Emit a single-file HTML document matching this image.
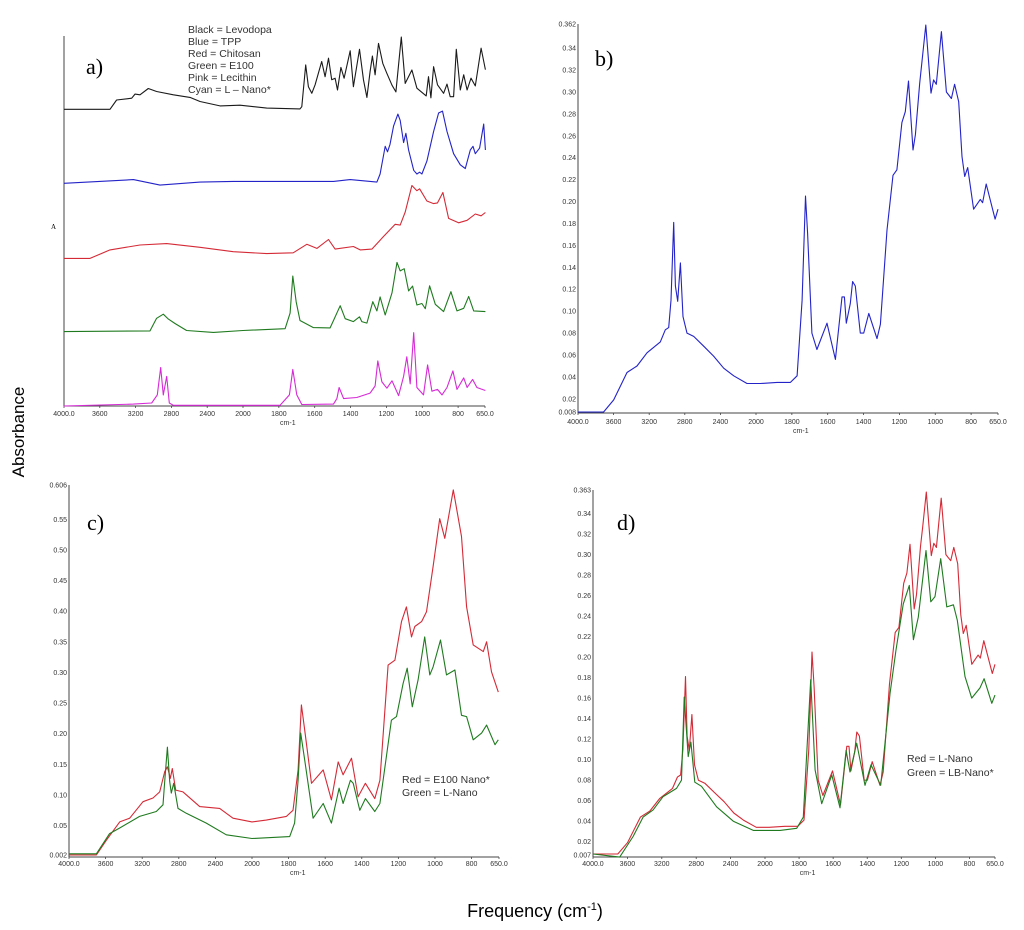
<!DOCTYPE html>
<html><head><meta charset="utf-8"><style>
html,body{margin:0;padding:0;background:#fff;}
svg{display:block;font-family:"Liberation Sans",sans-serif;}
.tk{font-size:7px;fill:#333;}
.pl{font-family:"Liberation Serif",serif;font-size:22px;fill:#000;}
.lg{font-size:10.5px;fill:#333;}
</style></head><body>
<svg id="fig" width="1024" height="930" viewBox="0 0 1024 930">
<text x="0" y="0" transform="translate(24,432) rotate(-90)" text-anchor="middle" font-size="17">Absorbance</text>
<text x="535" y="917" text-anchor="middle" font-size="18">Frequency (cm<tspan dy="-7" font-size="11">-1</tspan><tspan dy="7">)</tspan></text>
<g id="pa"></g>
<g id="pb"></g>
<g id="pc"></g>
<g id="pd"></g>
</svg>
<script>
// ---- x tick data (wavenumbers, cm-1) ----
const xTicks = [4000,3600,3200,2800,2400,2000,1800,1600,1400,1200,1000,800,650];
const xTickLabels = ["4000.0","3600","3200","2800","2400","2000","1800","1600","1400","1200","1000","800","650.0"];
// ---- panel a: stacked traces (relative absorbance units) ----
const seriesANames = ["Levodopa","TPP","Chitosan","E100","Lecithin"];
const seriesAOffsets = [80.2,60.2,39.9,20.1,0];
const levodopa = [[4000,0],[3486,0],[3412,2.5],[3244,3],[3207,4.1],[3151,3.9],[3058,5.6],[2965,4.8],[2778,3.9],[2592,3.2],[2480,2.1],[2257,0.9],[2033,1.1],[1868,0.3],[1682,0.1],[1672,0.7],[1650,12],[1635,6.1],[1616,4.3],[1598,6.6],[1561,12.9],[1542,8.8],[1523,13.8],[1505,8],[1486,8.4],[1473,5.2],[1454,11.3],[1436,8.4],[1402,15.8],[1384,6.1],[1350,16.2],[1328,7.9],[1309,3.2],[1291,10.2],[1278,14.4],[1263,9.3],[1244,17.8],[1220,12.4],[1197,9.7],[1169,6.5],[1147,4.7],[1117,19.5],[1095,7],[1058,10.6],[1030,5.7],[978,3.6],[965,8.8],[952,3.1],[937,11.5],[915,6.6],[881,4.3],[862,6.8],[844,3.4],[825,3.4],[810,16.2],[788,5.2],[769,9.3],[750,5.2],[728,8.4],[704,6.3],[672,16.5],[648,10.7]];
const tpp = [[4000,0],[3225,1],[2927,-0.5],[2480,0.3],[2108,0.5],[1868,0.5],[1495,0.5],[1402,1],[1253,0.3],[1235,2.5],[1207,10],[1194,8.5],[1180,10.5],[1160,15.5],[1136,18.7],[1123,17],[1104,11],[1091,13.5],[1076,9],[1048,3.5],[1030,2.5],[1015,3],[1002,2.5],[974,6],[937,14],[909,19],[887,19.5],[862,14],[825,8],[788,5],[760,4],[732,9],[717,10],[704,8],[680,9.5],[657,16],[648,9]];
const chitosan = [[4000,0],[3710,0],[3486,2.3],[3151,3.6],[2853,4],[2480,3],[2108,1.8],[1868,1.3],[1720,1.5],[1644,3.8],[1588,2.7],[1523,5.1],[1486,2.5],[1384,3.2],[1346,2.3],[1281,2.5],[1216,5.9],[1151,9.2],[1123,9],[1095,12.5],[1058,19.7],[1030,18.3],[1015,18.8],[974,15.5],[937,14.8],[915,15],[885,17.8],[853,10.8],[797,9.6],[750,10.3],[704,12],[672,11.5],[648,12.4]];
const e100 = [[4000,0],[3039,0.2],[2965,3.6],[2890,4.7],[2834,3.4],[2760,2.2],[2630,0.3],[2331,-0.2],[2000,0.3],[1765,0.8],[1737,5],[1722,15],[1703,8],[1682,3],[1607,1.1],[1514,1],[1495,3],[1458,7],[1430,3.5],[1384,2.7],[1350,4],[1337,2.7],[1309,2.3],[1276,8.1],[1253,5.6],[1235,9.4],[1207,4.5],[1169,10.5],[1141,18.7],[1123,16.4],[1101,17],[1076,11],[1054,12.3],[1030,7.2],[1002,7.6],[983,6.2],[959,12.4],[927,7.4],[881,5.4],[840,10.8],[806,5.6],[769,6.3],[741,9.5],[713,5.6],[648,5.4]];
const lecithin = [[4000,0],[3225,0.5],[3020,0.8],[2957,3],[2920,10.4],[2890,3],[2853,8],[2823,0.8],[2778,0.2],[1793,0.2],[1741,3],[1722,9.9],[1700,3],[1672,0.4],[1495,0.5],[1476,2],[1464,5],[1439,2],[1365,2.3],[1291,3.5],[1263,5.4],[1248,12.2],[1225,6.5],[1197,4.8],[1169,6.8],[1132,2.8],[1104,8],[1086,13.3],[1067,6],[1048,19.8],[1030,5],[993,3],[970,11.1],[946,4],[915,4.5],[890,3],[862,5],[829,9.5],[806,4.5],[769,7.6],[750,5],[719,7.2],[695,5],[648,4.2]];
// ---- panel b / d red: L-Nano absorbance ----
const lNano = [[4000,.008],[3712,.008],[3599,.019],[3449,.044],[3337,.05],[3225,.062],[3075,.072],[3019,.083],[2981,.085],[2955,.11],[2925,.181],[2906,.123],[2880,.109],[2850,.144],[2820,.095],[2775,.08],[2700,.077],[2588,.068],[2476,.059],[2363,.048],[2251,.041],[2101,.034],[1976,.034],[1883,.035],[1808,.035],[1771,.041],[1743,.11],[1724,.205],[1712,.171],[1688,.08],[1660,.065],[1604,.089],[1557,.056],[1520,.113],[1507,.113],[1496,.089],[1474,.107],[1461,.127],[1446,.123],[1418,.08],[1399,.08],[1371,.098],[1325,.075],[1306,.088],[1269,.174],[1236,.224],[1214,.229],[1186,.272],[1167,.282],[1149,.31],[1124,.247],[1111,.261],[1087,.308],[1074,.328],[1053,.361],[1024,.299],[1009,.311],[994,.307],[966,.355],[938,.3],[910,.294],[892,.307],[869,.291],[851,.241],[836,.223],[819,.231],[786,.193],[749,.202],[736,.199],[716,.216],[666,.184],[650,.193]];
// ---- panel c ----
const e100Nano = [[4000,.002],[3701,.002],[3592,.026],[3446,.056],[3337,.062],[3191,.089],[3082,.095],[3009,.105],[2954,.138],[2925,.146],[2893,.127],[2871,.143],[2834,.108],[2754,.105],[2572,.081],[2353,.078],[2208,.062],[2000,.056],[1922,.059],[1812,.065],[1776,.075],[1748,.141],[1730,.247],[1712,.206],[1675,.119],[1611,.141],[1566,.092],[1529,.154],[1502,.133],[1456,.16],[1420,.097],[1380,.119],[1329,.094],[1301,.124],[1256,.312],[1219,.32],[1183,.383],[1156,.407],[1128,.358],[1110,.375],[1073,.383],[1046,.399],[1010,.473],[974,.551],[946,.519],[900,.598],[855,.522],[827,.407],[791,.345],[736,.334],[718,.35],[691,.301],[654,.268]];
const lNanoC = [[4000,.004],[3701,.004],[3556,.037],[3446,.046],[3228,.065],[3046,.073],[2973,.084],[2954,.122],[2925,.178],[2900,.122],[2882,.103],[2856,.119],[2809,.078],[2718,.07],[2499,.054],[2281,.035],[2000,.029],[1794,.032],[1767,.054],[1748,.124],[1734,.201],[1712,.157],[1666,.062],[1611,.086],[1566,.054],[1524,.111],[1502,.086],[1462,.124],[1447,.119],[1411,.075],[1380,.094],[1329,.073],[1301,.086],[1238,.222],[1210,.228],[1174,.282],[1152,.307],[1124,.244],[1092,.288],[1056,.358],[1028,.296],[1010,.309],[970,.353],[937,.296],[891,.304],[855,.23],[827,.228],[791,.19],[745,.201],[718,.214],[672,.182],[654,.19]];
// ---- panel d green: LB-Nano ----
const lbNano = [[4000,.008],[3689,.005],[3534,.025],[3417,.044],[3301,.051],[3185,.064],[3029,.072],[2971,.08],[2940,.161],[2893,.103],[2862,.117],[2816,.078],[2738,.074],[2563,.054],[2369,.04],[2136,.031],[1912,.031],[1814,.033],[1775,.044],[1732,.178],[1706,.09],[1667,.057],[1608,.085],[1560,.053],[1524,.109],[1501,.088],[1462,.116],[1413,.075],[1378,.095],[1321,.075],[1266,.165],[1231,.207],[1188,.252],[1153,.27],[1129,.217],[1100,.239],[1055,.304],[1027,.254],[1002,.259],[969,.296],[933,.249],[894,.251],[871,.236],[826,.181],[787,.16],[738,.17],[714,.179],[669,.155],[650,.163]];
const yTicksB = [0.008,0.02,0.04,0.06,0.08,0.10,0.12,0.14,0.16,0.18,0.20,0.22,0.24,0.26,0.28,0.30,0.32,0.34,0.362];
const yTicksC = [0.002,0.05,0.10,0.15,0.20,0.25,0.30,0.35,0.40,0.45,0.50,0.55,0.606];
const yTicksD = [0.007,0.02,0.04,0.06,0.08,0.10,0.12,0.14,0.16,0.18,0.20,0.22,0.24,0.26,0.28,0.30,0.32,0.34,0.363];

const NS="http://www.w3.org/2000/svg";
function mk(p,tag,attrs,txt){const e=document.createElementNS(NS,tag);for(const k in attrs)e.setAttribute(k,attrs[k]);if(txt!==undefined)e.textContent=txt;p.appendChild(e);return e;}
function xScale(P){return wn=> wn>=2000 ? P.x0+(4000-wn)/2000*(P.x2-P.x0) : P.x2+(2000-wn)/1350*(P.x1-P.x2);}
function linY(P){return v=> P.yb+(v-P.vmin)/(P.vmax-P.vmin)*(P.yt-P.yb);}
function drawLine(g,data,xs,ys,color,name){
  const d=data.map((p,i)=>(i?"L":"M")+xs(p[0]).toFixed(1)+","+ys(p[1]).toFixed(1)).join("");
  const e=mk(g,"path",{d:d,fill:"none",stroke:color,"stroke-width":1.1,"stroke-linejoin":"round"});
  
  
}
function xAxis(g,P,xs,ylab,cmY){
  const ax=mk(g,"line",{x1:P.x0,x2:P.x1,y1:P.yaxis,y2:P.yaxis,stroke:"#444","stroke-width":1});
  
  
  xTicks.forEach((t,i)=>{
    const x=xs(t);
    mk(g,"line",{x1:x,x2:x,y1:P.yaxis,y2:P.yaxis+2,stroke:"#444","stroke-width":0.8});
    const tl=mk(g,"text",{x:x,y:ylab,"text-anchor":"middle",class:"tk"},xTickLabels[i]);
    
    
  });
  const c=mk(g,"text",{x:xs(1750),y:cmY,"text-anchor":"middle",class:"tk"},"cm-1");
  
  
}
function yAxis(g,P,ys,ticks,digits){
  const ax=mk(g,"line",{x1:P.x0,x2:P.x0,y1:P.yt,y2:P.yaxis,stroke:"#444","stroke-width":1});
  
  
  ticks.forEach((t,i)=>{
    const lab=(i===0||i===ticks.length-1)?t.toFixed(3):t.toFixed(digits);
    const tl=mk(g,"text",{x:P.x0-2,y:ys(t)+2.5,"text-anchor":"end",class:"tk"},lab);
    
    
  });
}
// Panel a
(function(){
  const g=document.getElementById("pa");
  const P={x0:64,x2:243,x1:485,yaxis:406,yt:36};
  const xs=xScale(P);
  const colors=["#1a1a1a","#2323c8","#d42a36","#1f7a1f","#d62ad6"];
  const series=[levodopa,tpp,chitosan,e100,lecithin];
  const va=mk(g,"line",{x1:64,x2:64,y1:36,y2:406,stroke:"#444","stroke-width":1});
  
  
  xAxis(g,P,xs,416,425);
  series.forEach((s,i)=>{
    const ys=v=>406-(seriesAOffsets[i]+v)*3.7;
    drawLine(g,s,xs,ys,colors[i],"trace-"+seriesANames[i].toLowerCase());
  });
  const A=mk(g,"text",{x:51,y:229,"font-size":7,"font-family":"Liberation Serif, serif"},"A");
  
  
  const pl=mk(g,"text",{x:86,y:74,class:"pl"},"a)");
  
  
  const leg=["Black = Levodopa","Blue = TPP","Red = Chitosan","Green = E100","Pink = Lecithin","Cyan = L \u2013 Nano*"];
  leg.forEach((t,i)=>{
    const e=mk(g,"text",{x:188,y:33+i*12,class:"lg","font-size":10},t);
    
    
  });
})();
// Panel b
(function(){
  const g=document.getElementById("pb");
  const P={x0:578,x2:756,x1:998,yaxis:413,yt:24,yb:412,vmin:0.008,vmax:0.362};
  const xs=xScale(P), ys=linY(P);
  yAxis(g,P,ys,yTicksB,2); xAxis(g,P,xs,424,433);
  drawLine(g,lNano,xs,ys,"#2323c8","trace-l-nano");
  const pl=mk(g,"text",{x:595,y:66,class:"pl"},"b)");
  
  
})();
// Panel c
(function(){
  const g=document.getElementById("pc");
  const P={x0:69,x2:252,x1:499,yaxis:857,yt:485,yb:855,vmin:0.002,vmax:0.606};
  const xs=xScale(P), ys=linY(P);
  yAxis(g,P,ys,yTicksC,2); xAxis(g,P,xs,866,875);
  drawLine(g,e100Nano,xs,ys,"#d42a36","trace-e100-nano");
  drawLine(g,lNanoC,xs,ys,"#1f7a1f","trace-l-nano");
  const pl=mk(g,"text",{x:87,y:530,class:"pl"},"c)");
  
  
  ["Red = E100 Nano*","Green = L-Nano"].forEach((t,i)=>{
    const e=mk(g,"text",{x:402,y:783+i*13,class:"lg"},t);
    
    
  });
})();
// Panel d
(function(){
  const g=document.getElementById("pd");
  const P={x0:593,x2:765,x1:995,yaxis:857,yt:490,yb:855,vmin:0.007,vmax:0.363};
  const xs=xScale(P), ys=linY(P);
  yAxis(g,P,ys,yTicksD,2); xAxis(g,P,xs,866,875);
  drawLine(g,lNano,xs,ys,"#d42a36","trace-l-nano");
  drawLine(g,lbNano,xs,ys,"#1f7a1f","trace-lb-nano");
  const pl=mk(g,"text",{x:617,y:530,class:"pl"},"d)");
  
  
  ["Red = L-Nano","Green = LB-Nano*"].forEach((t,i)=>{
    const e=mk(g,"text",{x:907,y:762+i*14,class:"lg"},t);
    
    
  });
})();
</script>
</body></html>
